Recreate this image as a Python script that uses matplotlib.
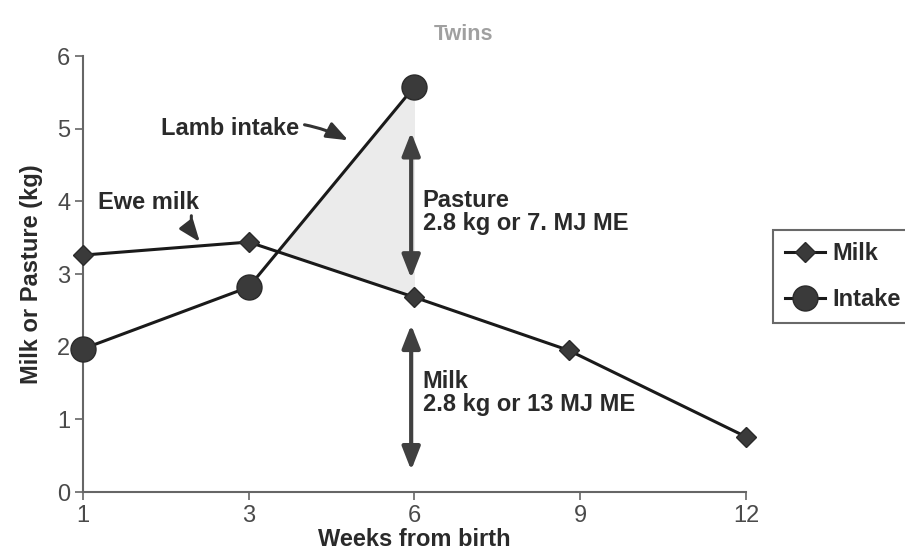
import matplotlib
matplotlib.use("Agg")
import matplotlib.pyplot as plt

plt.rcParams["font.family"] = ["Liberation Sans", "DejaVu Sans"]

# weeks shown at equal spacing on the x axis
week_labels = ["1", "3", "6", "9", "12"]
milk_pos = [0, 1, 2, 2.93, 4]
milk = [3.26, 3.44, 2.68, 1.95, 0.76]
intake_pos = [0, 1, 2]
intake = [1.97, 2.82, 5.58]

fig = plt.figure(figsize=(9.05, 5.6), dpi=100)
ax = fig.add_axes([0.0917, 0.1214, 0.7326, 0.7786])

# shaded pasture wedge between intake and milk
ax.fill_between(intake_pos, intake, milk[:3],
                where=[i >= m for i, m in zip(intake, milk[:3])],
                interpolate=True, color="#ebebeb", lw=0, zorder=1)

ax.plot(milk_pos, milk, color="#1a1a1a", lw=2.2, marker="D", ms=10,
        mfc="#3a3a3a", mec="#2a2a2a", clip_on=False, zorder=4, label="Milk")
ax.plot(intake_pos, intake, color="#1a1a1a", lw=2.2, marker="o", ms=18,
        mfc="#3a3a3a", mec="#2a2a2a", clip_on=False, zorder=5, label="Intake")

ax.set_xlim(0, 4)
ax.set_ylim(0, 6)
ax.set_xticks(range(len(week_labels)))
ax.set_xticklabels(week_labels)
ax.set_yticks(range(7))

for s in ["top", "right"]:
    ax.spines[s].set_visible(False)
for s in ["left", "bottom"]:
    ax.spines[s].set_color("#666666")
    ax.spines[s].set_linewidth(1.5)
ax.tick_params(length=6, width=1.2, color="#666666", labelcolor="#4a4a4a",
               labelsize=17, pad=3)

ax.set_xlabel("Weeks from birth", fontsize=17, fontweight="bold",
              color="#2a2a2a", labelpad=1)
ax.set_ylabel("Milk or Pasture (kg)", fontsize=17, fontweight="bold",
              color="#2a2a2a", labelpad=10)
fig.text(0.512, 0.938, "Twins", fontsize=15.5, fontweight="bold",
         color="#a0a0a0", ha="center", va="center")

# double-headed arrows at week 6
arr = dict(arrowstyle="<|-|>,head_length=1.4,head_width=0.55",
           color="#404040", lw=3, shrinkA=0, shrinkB=0)
ax.annotate("", xy=(1.98, 4.95), xytext=(1.98, 2.94), arrowprops=arr, zorder=3)
ax.annotate("", xy=(1.98, 2.30), xytext=(1.98, 0.30), arrowprops=arr, zorder=3)

txt = dict(fontsize=17, fontweight="bold", color="#2a2a2a", va="center",
           linespacing=1.0)
ax.text(2.05, 3.85, "Pasture\n2.8 kg or 7. MJ ME", **txt)
ax.text(2.05, 1.36, "Milk\n2.8 kg or 13 MJ ME", **txt)

pointer = dict(arrowstyle="-|>,head_length=1.3,head_width=0.5",
               color="#333333", lw=2.2, shrinkA=2, shrinkB=0)
ax.annotate("Lamb intake", xy=(1.6, 4.84), xytext=(0.47, 5.0),
            ha="left", va="center", fontsize=17, fontweight="bold",
            color="#2a2a2a",
            arrowprops=dict(pointer, connectionstyle="arc3,rad=-0.2",
                            mutation_scale=10))
ax.text(0.09, 3.98, "Ewe milk", ha="left", va="center", fontsize=17,
        fontweight="bold", color="#2a2a2a")
ax.annotate("", xy=(0.705, 3.44), xytext=(0.655, 3.84),
            arrowprops=dict(pointer, connectionstyle="arc3,rad=0.2"))

leg = fig.legend(loc="upper left", bbox_to_anchor=(773 / 905, 1 - 230 / 560),
                 frameon=True, fancybox=False, fontsize=17,
                 handlelength=1.7, borderpad=0.5, labelspacing=1.0,
                 handletextpad=0.3, borderaxespad=0)
leg.get_frame().set_edgecolor("#444444")
leg.get_frame().set_linewidth(1.5)
for t in leg.get_texts():
    t.set_fontweight("bold")
    t.set_color("#2a2a2a")

fig.savefig("out.png", dpi=100)
